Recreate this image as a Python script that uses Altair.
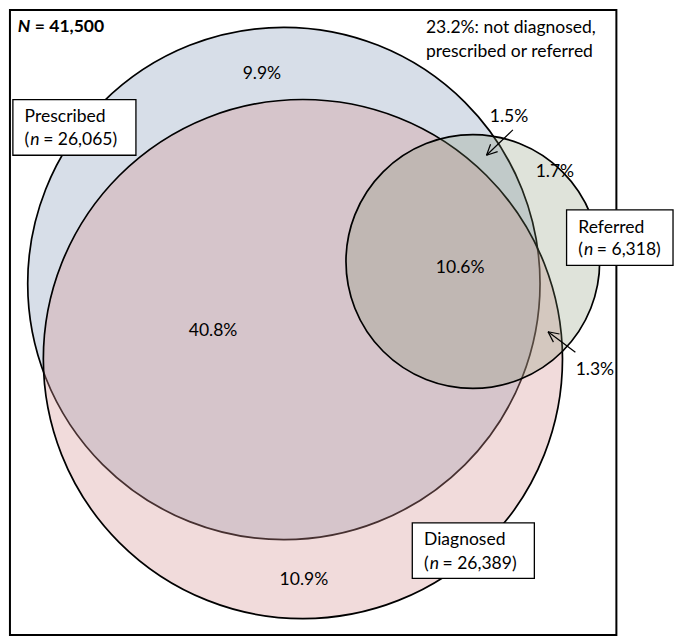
import math
import altair as alt
import pandas as pd

# ---------------- data ----------------
set_names = ["Prescribed", "Diagnosed", "Referred"]
set_counts = ["26,065", "26,389", "6,318"]
region_labels = ["9.9%", "40.8%", "10.9%", "10.6%", "1.5%", "1.7%", "1.3%"]
total_label = "41,500"
outside_lines = ["23.2%: not diagnosed,", "prescribed or referred"]

# ---------------- layout (reference pixel space) ----------------
W_REF, H_REF = 682, 644
W, H = 666, 628
KX = W / W_REF
KY = H / H_REF
K = (KX + KY) / 2
FONT = "Lato"
FS = 17.5

circle_cx = [282.5, 302, 476]
circle_cy = [282.5, 360, 260]
circle_r = [262.5, 266, 130]
circle_fill = ["#d7dee8", "#d49292", "#7f8f6a"]
circle_alpha = [1.0, 0.33, 0.25]

region_x = [260, 210, 303, 463, 513, 560, 601]
region_y = [68, 331, 587, 267, 112, 168, 371]

box_x = [5, 414, 572]
box_x2 = [131, 539, 681]
box_y = [94, 528, 207]
box_y2 = [151, 585, 264]
box_tx = [17, 426, 584]
box_ty1 = [112, 546, 226]
box_ty2 = [135, 570, 248]

arrow_from = [(517, 125), (581, 353)]
arrow_to = [(490, 151), (553, 332)]

frame = (2, 2, 623, 643)

xs = alt.Scale(domain=[0, W_REF], range=[0, W], nice=False, zero=False)
ys = alt.Scale(domain=[H_REF, 0], nice=False, zero=False)


def X(f="x"):
    return alt.X(f"{f}:Q", scale=xs, axis=None)


def Y(f="y"):
    return alt.Y(f"{f}:Q", scale=ys, axis=None)


def txt(df, **kw):
    base = dict(font=FONT, fontSize=FS, color="black", baseline="middle")
    base.update(kw)
    return alt.Chart(df).mark_text(**base).encode(x=X(), y=Y(), text="label:N")


layers = []

# frame
frame_df = pd.DataFrame({"x": [frame[0]], "x2": [frame[2]], "y": [frame[1]], "y2": [frame[3]]})
layers.append(
    alt.Chart(frame_df).mark_rect(fill="white", stroke="black", strokeWidth=2)
    .encode(x=X(), x2="x2:Q", y=Y(), y2="y2:Q")
)

# circles
for i, name in enumerate(set_names):
    d = pd.DataFrame({"name": [name], "x": [circle_cx[i]], "y": [circle_cy[i]], "r": [circle_r[i]]})
    layers.append(
        alt.Chart(d)
        .transform_calculate(sz=f"pow(2*datum.r*{K}, 2)")
        .mark_point(shape="circle", filled=True, fill=circle_fill[i], fillOpacity=circle_alpha[i],
                    stroke="black", strokeWidth=1.7, strokeOpacity=1, opacity=1)
        .encode(x=X(), y=Y(), size=alt.Size("sz:Q", scale=None, legend=None))
    )

# region percentage labels
reg_df = pd.DataFrame({"label": region_labels, "x": region_x, "y": region_y})
layers.append(txt(reg_df, align="center"))

# arrows
seg = []
for (x0, y0), (x1, y1) in zip(arrow_from, arrow_to):
    seg.append({"x": x0, "y": y0, "x2": x1, "y2": y1})
    ang = math.atan2(y0 - y1, x0 - x1)
    for da in (-0.45, 0.45):
        seg.append({"x": x1, "y": y1,
                    "x2": x1 + 12 * math.cos(ang + da), "y2": y1 + 12 * math.sin(ang + da)})
seg_df = pd.DataFrame(seg)
layers.append(
    alt.Chart(seg_df).mark_rule(color="black", strokeWidth=1.2)
    .encode(x=X(), y=Y(), x2="x2:Q", y2="y2:Q")
)

# label boxes
box_df = pd.DataFrame({"x": box_x, "x2": box_x2, "y": box_y, "y2": box_y2})
layers.append(
    alt.Chart(box_df).mark_rect(fill="white", stroke="black", strokeWidth=1.3)
    .encode(x=X(), x2="x2:Q", y=Y(), y2="y2:Q")
)
layers.append(txt(pd.DataFrame({"label": set_names, "x": box_tx, "y": box_ty1}), align="left"))
layers.append(txt(pd.DataFrame({"label": ["("] * 3, "x": box_tx, "y": box_ty2}), align="left"))
layers.append(txt(pd.DataFrame({"label": ["n"] * 3, "x": [v + 5.8 for v in box_tx], "y": box_ty2}),
                  align="left", fontStyle="italic"))
layers.append(txt(pd.DataFrame({"label": [f"= {c})" for c in set_counts],
                                "x": [v + 19.0 for v in box_tx], "y": box_ty2}), align="left"))

# N = total
layers.append(txt(pd.DataFrame({"label": ["N"], "x": [10], "y": [19]}),
                  align="left", fontWeight="bold", fontStyle="italic"))
layers.append(txt(pd.DataFrame({"label": [f"= {total_label}"], "x": [27.5], "y": [19]}),
                  align="left", fontWeight="bold"))

# outside note
layers.append(txt(pd.DataFrame({"label": outside_lines, "x": [428, 428], "y": [21, 45]}), align="left"))

chart = alt.layer(*layers).properties(
    width=W, height=H, padding=0, autosize=alt.AutoSizeParams(type="none")
).configure_view(stroke=None)

chart.save("out.html", embed_options={"renderer": "svg", "actions": False})
